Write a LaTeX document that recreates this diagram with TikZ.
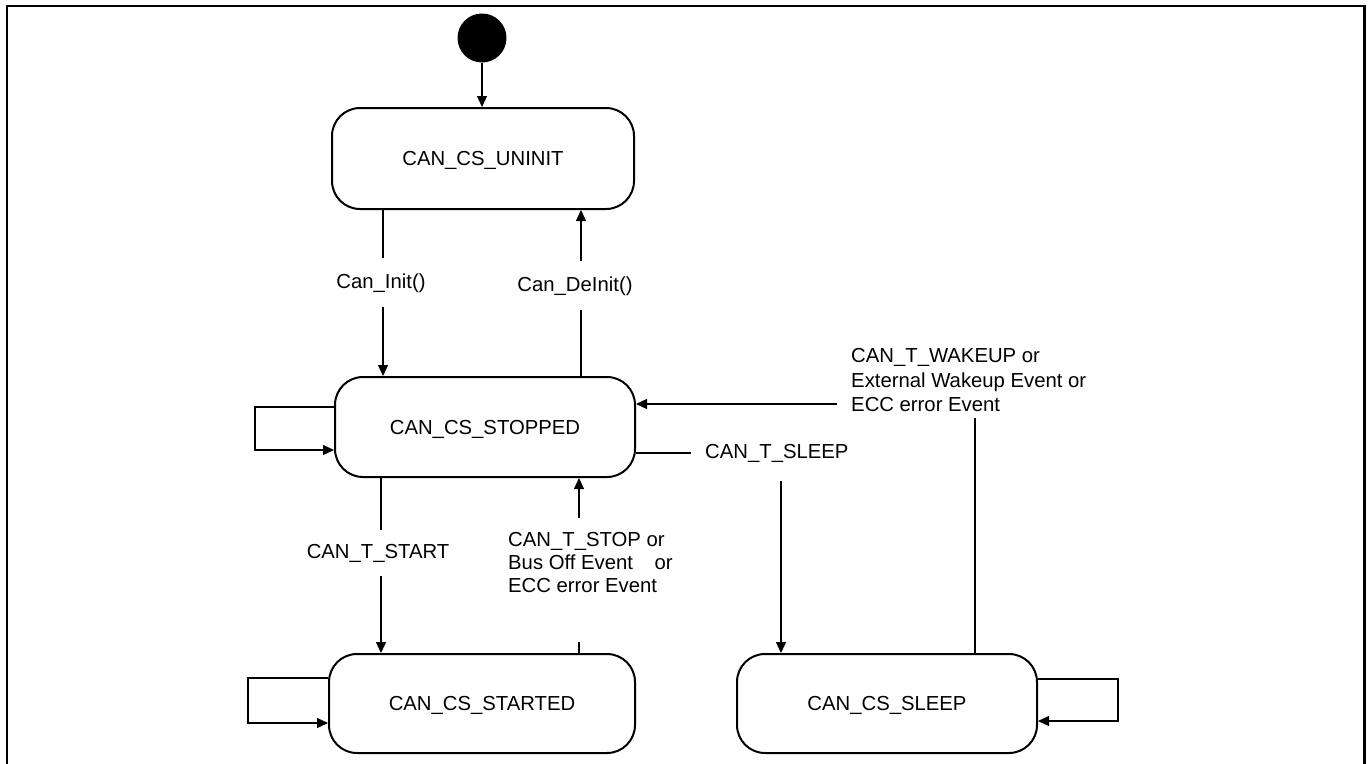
\documentclass[tikz,border=0pt]{standalone}
\usepackage{fontspec}
\setmainfont{Liberation Sans}
\usetikzlibrary{arrows.meta}
\begin{document}
\begin{tikzpicture}[x=1pt,y=-1pt,
  every node/.style={font=\fontsize{20.3}{24.5}\selectfont},
  state/.style={draw, line width=2pt, rounded corners=28pt, inner sep=0pt, text height=14.6pt, text depth=0pt},
  arr/.style={line width=1.2pt, -{Triangle[length=11pt,width=10pt]}},
  lbl/.style={fill=white, inner xsep=2pt},
  frame/.style={line width=2.2pt}
]
\useasboundingbox (0,0) rectangle (1370,763);
\draw[frame] (6.7,764) -- (6.7,6) -- (1364.5,6) -- (1364.5,764);

% states
\node[circle, fill=black, minimum size=49pt, inner sep=0pt] (init) at (482,38) {};
\node[state, minimum width=302pt, minimum height=101pt] (uninit) at (483,158.5) {CAN\_CS\_UNINIT};
\node[state, minimum width=300pt, minimum height=100pt] (stopped) at (485,427) {CAN\_CS\_STOPPED};
\node[state, minimum width=306pt, minimum height=99pt] (started) at (482,703.5) {CAN\_CS\_STARTED};
\node[state, minimum width=300pt, minimum height=99pt] (sleep) at (887,703.5) {CAN\_CS\_SLEEP};

% connectors
\draw[arr] (init) -- (init |- uninit.north);
\draw[arr] ([xshift=-100pt]uninit.south) -- ([xshift=-100pt]uninit.south |- stopped.north);
\draw[arr] ([xshift=96pt]stopped.north) -- ([xshift=96pt]stopped.north |- uninit.south);
\draw[arr] ([yshift=20pt]stopped.west) -- ++(-79,0) |- ([yshift=-23pt]stopped.west);
\draw[arr] ([yshift=25.5pt]started.west) -- ++(-80,0) |- ([yshift=-19.5pt]started.west);
\draw[arr] ([yshift=24.5pt]sleep.east) -- ++(80,0) |- ([yshift=-17.5pt]sleep.east);
\draw[arr] ([xshift=-104pt]stopped.south) -- ([xshift=-104pt]stopped.south |- started.north);
\draw[arr] ([xshift=97pt]started.north) -- ([xshift=97pt]started.north |- stopped.south);
\draw[arr] ([yshift=-26pt]stopped.east) -| ([xshift=-106pt]sleep.north);
\draw[arr] ([xshift=88pt]sleep.north) |- ([yshift=23pt]stopped.east);

% labels
\node[lbl, inner ysep=15pt, anchor=base] (linit) at (381,288) {Can\_Init()};
\node[lbl, inner ysep=15pt, anchor=base] (ldeinit) at (575,291) {Can\_DeInit()};
\node[lbl, inner ysep=14pt, anchor=base] (lstart) at (378,558) {CAN\_T\_START};
\node[lbl, inner xsep=4pt, inner ysep=15pt, anchor=north west, align=left,
      font=\fontsize{20.3}{23}\selectfont] (lstop) at (504,517.5)
  {CAN\_T\_STOP or\\Bus Off Event\hspace{16pt} or\\ECC error Event\\[11pt]\mbox{}};
\node[lbl, inner xsep=14pt, inner ysep=19pt, anchor=base west] (lsleep) at (691,458) {CAN\_T\_SLEEP};
\node[lbl, inner xsep=14pt, inner ysep=6pt, anchor=north west, align=left] (lwake) at (837,342.5)
  {CAN\_T\_WAKEUP or\\External Wakeup Event or\\ECC error Event};
\end{tikzpicture}
\end{document}
